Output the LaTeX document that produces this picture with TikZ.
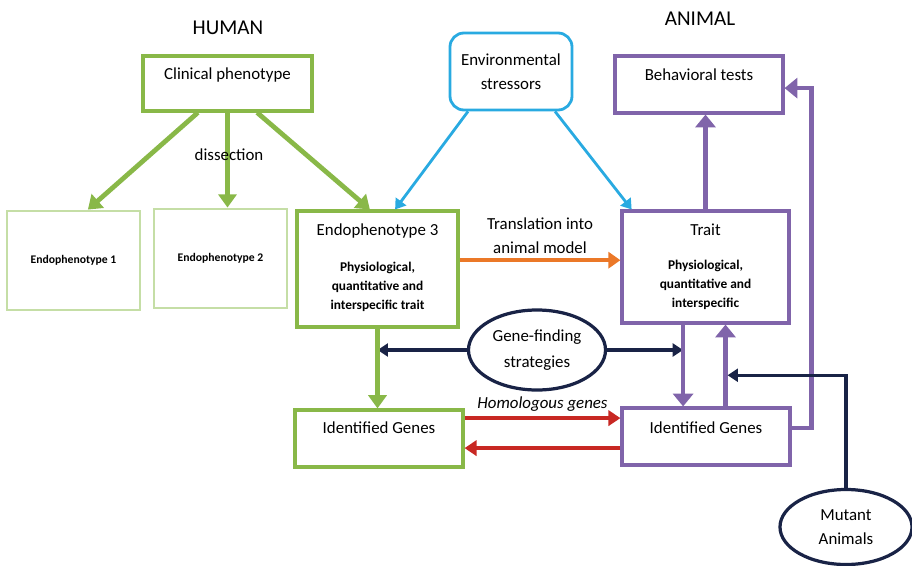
\documentclass[tikz,border=0pt]{standalone}
\usepackage{fontspec}
\setmainfont{Carlito}
\usetikzlibrary{arrows.meta,shapes.geometric}
\definecolor{grn}{RGB}{137,184,72}
\definecolor{lgrn}{RGB}{197,222,166}
\definecolor{blu}{RGB}{41,170,225}
\definecolor{prp}{RGB}{128,100,170}
\definecolor{org}{RGB}{235,120,40}
\definecolor{rd}{RGB}{200,40,35}
\definecolor{nvy}{RGB}{25,35,70}

\begin{document}
\begin{tikzpicture}[x=0.025cm, y=-0.025cm,
  txt/.style={font=\fontsize{12}{17}\selectfont, align=center},
  sml/.style={font=\fontsize{9.5}{13.5}\selectfont\bfseries, align=center},
  big/.style={font=\fontsize{15}{18}\selectfont},
  gbox/.style={draw=grn, line width=2.2pt, inner sep=0pt},
  lbox/.style={draw=lgrn, line width=2pt, inner sep=0pt, font=\fontsize{8.3}{10}\selectfont\bfseries},
  pbox/.style={draw=prp, line width=2.2pt, inner sep=0pt},
  envbox/.style={draw=blu, line width=2pt, rounded corners=0.35cm, inner sep=0pt, txt},
  oval/.style={ellipse, draw=nvy, line width=2.3pt, inner sep=0pt, txt},
  garr/.style={draw=grn, line width=3.4pt, -{Triangle[length=0.33cm,width=0.45cm]}},
  parr/.style={draw=prp, line width=3.2pt, -{Triangle[length=0.32cm,width=0.5cm]}},
  barr/.style={draw=blu, line width=2pt, -{Triangle[length=0.25cm,width=0.32cm]}},
  narr/.style={draw=nvy, line width=2.3pt, -{Triangle[length=0.26cm,width=0.32cm]}},
  rarr/.style={draw=rd, line width=2.8pt, -{Triangle[length=0.3cm,width=0.38cm]}},
  oarr/.style={draw=org, line width=2.8pt, -{Triangle[length=0.3cm,width=0.4cm]}}]
  \useasboundingbox (0,0) rectangle (912,565);

  \node[big] (human) at (228,28) {HUMAN};
  \node[big] (animal) at (700,19) {ANIMAL};

  \node[gbox, minimum width=4.225cm, minimum height=1.375cm] (clin) at (227.5,83.5) {};
  \node[txt] (clinT) at (227.5,75) {Clinical phenotype};
  \node[lbox, minimum width=3.325cm, minimum height=2.475cm] (endo1) at (73.5,260.5) {Endophenotype 1};
  \node[lbox, minimum width=3.325cm, minimum height=2.475cm] (endo2) at (220.5,258.5) {Endophenotype 2};
  \node[gbox, minimum width=4.025cm, minimum height=2.9cm] (endo3) at (377.5,269) {};
  \node[txt] (endo3T) at (377.5,231) {Endophenotype 3};
  \node[sml] (endo3S) at (377.5,287) {Physiological,\\quantitative and\\interspecific trait};

  \node[envbox, minimum width=3.05cm, minimum height=1.925cm] (env) at (511,71.5) {Environmental\\stressors};

  \node[pbox, minimum width=4.2cm, minimum height=1.425cm] (beh) at (699,84.5) {};
  \node[txt] (behT) at (699,75) {Behavioral tests};
  \node[pbox, minimum width=4.175cm, minimum height=2.8cm] (trait) at (705.5,267) {};
  \node[txt] (traitT) at (705.5,230) {Trait};
  \node[sml] (traitS) at (705.5,285) {Physiological,\\quantitative and\\interspecific};

  \node[gbox, minimum width=4.2cm, minimum height=1.425cm] (idL) at (379,438.5) {};
  \node[txt] (idLT) at (379,428) {Identified Genes};
  \node[pbox, minimum width=4.2cm, minimum height=1.425cm] (idR) at (706,436.5) {};
  \node[txt] (idRT) at (706,428) {Identified Genes};

  \node[oval, font=\fontsize{12}{19}\selectfont, minimum width=3.425cm, minimum height=2cm] (gene) at (537,350) {Gene-finding\\strategies};
  \node[oval, minimum width=3.3cm, minimum height=1.875cm] (mut) at (846,527) {Mutant\\Animals};

  \draw[garr] ([xshift=-0.74cm]clin.south) -- ([xshift=0.36cm]endo1.north);
  \draw[garr] (clin.south) -- (clin.south |- endo2.north);
  \draw[garr] ([xshift=0.74cm]clin.south) -- ([xshift=-0.19cm]endo3.north);
  \node[txt] (dis) at (229,155) {dissection};

  \draw[barr] ([xshift=-1.075cm]env.south) -- ([xshift=0.44cm]endo3.north);
  \draw[barr] ([xshift=1.1cm]env.south) -- ([xshift=0.28cm]trait.north west);

  \draw[parr] (trait.north) -- (trait.north |- beh.south);
  \coordinate (tr) at ([yshift=0.22cm]endo3.east);
  \draw[oarr] (tr) -- (tr -| trait.west) node[midway, above, txt] (trans) {Translation into\\animal model};

  \coordinate (tdn) at ([xshift=-0.56cm]trait.south);
  \coordinate (tup) at ([xshift=0.5cm]trait.south);
  \draw[narr] (gene.west) -- (gene.west -| endo3.south);
  \draw[narr] (gene.east) -- (gene.east -| tdn);
  \draw[garr] (endo3.south) -- (endo3.south |- idL.north);
  \draw[parr] (tdn) -- (tdn |- idR.north);
  \draw[parr] (idR.north -| tup) -- (tup);

  \coordinate (redA) at ([yshift=0.51cm]idL.east);
  \coordinate (redB) at ([yshift=-0.29cm]idR.west);
  \draw[rarr] (redA) -- (redA -| idR.west) node[midway, above, font=\fontsize{12}{14}\selectfont\itshape] (hom) {Homologous genes};
  \draw[rarr] (redB) -- (redB -| idL.east);

  \draw[parr] ([yshift=0.21cm]idR.east) -- ++(20,0) |- ([yshift=-0.09cm]beh.east);
  \coordinate (upfoot) at (idR.north -| tup);
  \coordinate (hit) at ([yshift=0.78cm, xshift=0.05cm]upfoot);
  \draw[narr] (mut.north) |- (hit);
\end{tikzpicture}
\end{document}
